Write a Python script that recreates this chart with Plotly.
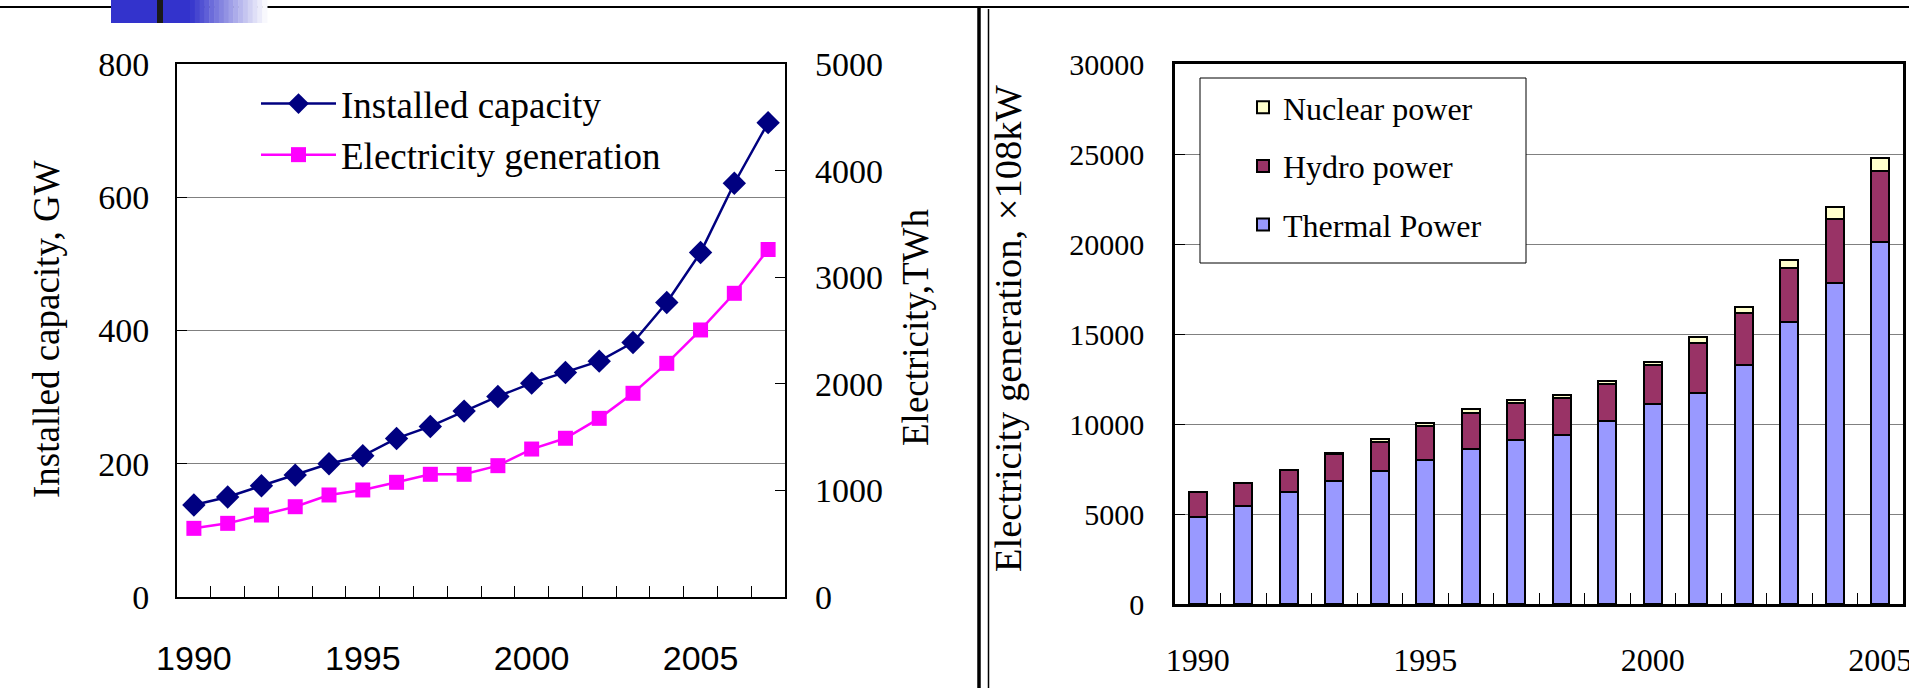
import plotly.graph_objects as go

W, H = 1909, 688


def px(x):
    return x / W


def py(y):
    return 1 - y / H


SERIF = "Liberation Serif, Times New Roman, serif"
SANS = "Liberation Sans, Arial, sans-serif"

# ---------------- data ----------------
years_left = list(range(1990, 2008))
capacity_gw = [138, 150, 167, 183, 200, 212, 238, 256, 279, 301, 321, 337, 354, 382, 442, 517, 621, 712]
generation_twh = [644, 691, 769, 847, 957, 1004, 1076, 1151, 1151, 1232, 1388, 1489, 1676, 1911, 2192, 2505, 2849, 3260]

years_right = list(range(1990, 2006))
thermal = [4850, 5460, 6240, 6810, 7410, 8000, 8610, 9110, 9390, 10190, 11110, 11740, 13280, 15690, 17820, 20130]
hydro = [1370, 1240, 1200, 1540, 1610, 1890, 1980, 2080, 2080, 2060, 2190, 2740, 2870, 2960, 3550, 3940]
nuclear = [0, 0, 0, 20, 130, 180, 260, 145, 140, 150, 165, 370, 370, 460, 670, 690]

left_xticks = [1990, 1995, 2000, 2005]
right_xticks = [1990, 1995, 2000, 2005]

fig = go.Figure()

# ---------------- left chart ----------------
fig.add_trace(go.Scatter(
    x=years_left, y=capacity_gw, name="Installed capacity",
    mode="lines+markers", xaxis="x", yaxis="y",
    line=dict(color="#000080", width=2.5),
    marker=dict(symbol="diamond", size=18, color="#000080"),
    legend="legend", legendgroup="a", legendrank=1,
))
fig.add_trace(go.Scatter(
    x=years_left, y=generation_twh, name="Electricity generation",
    mode="lines+markers", xaxis="x", yaxis="y2",
    line=dict(color="#FF00FF", width=2.5),
    marker=dict(symbol="square", size=15, color="#FF00FF"),
    legend="legend", legendgroup="b", legendrank=2,
))

# ---------------- right chart ----------------
bar_line = dict(color="black", width=2)
fig.add_trace(go.Bar(
    x=years_right, y=thermal, name="Thermal Power", xaxis="x2", yaxis="y3",
    width=0.4, marker=dict(color="#9999FF", line=bar_line),
    legend="legend2", legendgroup="t", legendrank=3,
))
fig.add_trace(go.Bar(
    x=years_right, y=hydro, name="Hydro power", xaxis="x2", yaxis="y3",
    width=0.4, marker=dict(color="#993366", line=bar_line),
    legend="legend2", legendgroup="h", legendrank=2,
))
fig.add_trace(go.Bar(
    x=years_right, y=nuclear, name="Nuclear power", xaxis="x2", yaxis="y3",
    width=0.4, marker=dict(color="#FFFFCC", line=bar_line),
    legend="legend2", legendgroup="n", legendrank=1,
))

axis_common = dict(showline=True, mirror=True, linecolor="black", zeroline=False, automargin=False)

fig.update_layout(
    width=W, height=H,
    margin=dict(l=0, r=0, t=0, b=0, pad=0, autoexpand=False),
    paper_bgcolor="white", plot_bgcolor="white",
    barmode="stack",
    showlegend=True,
    xaxis=dict(
        domain=[px(177), px(785)], anchor="y", range=[1989.5, 2007.5],
        tickmode="array", tickvals=left_xticks, ticks="inside", ticklen=0,
        minor=dict(tickmode="array", tickvals=[y + 0.5 for y in years_left[:-1]],
                   ticks="inside", ticklen=11, tickcolor="black", tickwidth=1, showgrid=False),
        showgrid=False, linewidth=2, tickformat="d",
        tickfont=dict(family=SANS, size=34, color="black"), ticklabelstandoff=30,
        **axis_common,
    ),
    yaxis=dict(
        domain=[py(597), py(64)], anchor="x", range=[0, 800], dtick=200,
        ticks="inside", ticklen=10, tickcolor="black",
        showgrid=True, gridcolor="#808080", gridwidth=1, linewidth=2,
        tickfont=dict(family=SERIF, size=34, color="black"), ticklabelstandoff=19,
        **axis_common,
    ),
    yaxis2=dict(
        overlaying="y", side="right", anchor="x", range=[0, 5000], dtick=1000,
        ticks="inside", ticklen=10, tickcolor="black", showgrid=False, showline=False,
        zeroline=False, automargin=False, tickformat="d",
        tickfont=dict(family=SERIF, size=34, color="black"), ticklabelstandoff=29,
    ),
    xaxis2=dict(
        domain=[px(1175), px(1903)], anchor="y3", range=[1989.5, 2005.5],
        tickmode="array", tickvals=right_xticks, ticks="inside", ticklen=0,
        minor=dict(tickmode="array", tickvals=[y + 0.5 for y in years_right[:-1]],
                   ticks="inside", ticklen=11, tickcolor="black", tickwidth=1, showgrid=False),
        showgrid=False, linewidth=2.5, tickformat="d", ticklabeloverflow="allow",
        tickfont=dict(family=SERIF, size=32, color="black"), ticklabelstandoff=26,
        **axis_common,
    ),
    yaxis3=dict(
        domain=[py(604), py(64)], anchor="x2", range=[0, 30000], dtick=5000,
        ticks="inside", ticklen=10, tickcolor="black", tickformat="d",
        showgrid=True, gridcolor="#808080", gridwidth=1, linewidth=2.5,
        tickfont=dict(family=SERIF, size=30, color="black"), ticklabelstandoff=22,
        **axis_common,
    ),
    legend=dict(
        x=px(256), y=py(73), xanchor="left", yanchor="top",
        bgcolor="rgba(0,0,0,0)", borderwidth=0, itemwidth=75,
        font=dict(family=SERIF, size=37, color="black"),
        traceorder="grouped", tracegroupgap=0,
    ),
    legend2=dict(
        x=px(1243), y=py(80), xanchor="left", yanchor="top",
        bgcolor="rgba(0,0,0,0)", borderwidth=0,
        font=dict(family=SERIF, size=32, color="black"),
        traceorder="grouped", tracegroupgap=14,
    ),
)

# ---------------- axis titles ----------------
title_font = dict(family=SERIF, size=37, color="black")
fig.add_annotation(text="Installed capacity, GW", x=px(46), y=py(329), xref="paper", yref="paper",
                   textangle=-90, showarrow=False, font=title_font, xanchor="center", yanchor="middle")
fig.add_annotation(text="Electricity,TWh", x=px(915), y=py(328), xref="paper", yref="paper",
                   textangle=-90, showarrow=False, font=title_font, xanchor="center", yanchor="middle")
fig.add_annotation(text="Electricity generation, ×108kW", x=px(1008), y=py(329), xref="paper", yref="paper",
                   textangle=-90, showarrow=False, font=dict(family=SERIF, size=38.5, color="black"),
                   xanchor="center", yanchor="middle")

# ---------------- decorations ----------------
shapes = []
# right legend box
shapes.append(dict(type="rect", xref="paper", yref="paper", x0=px(1200), x1=px(1526), y0=py(263), y1=py(78),
                   fillcolor="white", line=dict(color="black", width=1), layer="above"))
# top rule
shapes.append(dict(type="line", xref="paper", yref="paper", x0=0, x1=1, y0=py(7), y1=py(7),
                   line=dict(color="black", width=2)))
# blue block with gradient
shapes.append(dict(type="rect", xref="paper", yref="paper", x0=px(111), x1=px(190), y0=py(23), y1=1,
                   fillcolor="#3333CC", line=dict(width=0)))
steps = 16
for i in range(steps):
    f = (i + 0.5) / steps
    r = int(51 + (255 - 51) * f)
    b = int(204 + (255 - 204) * f)
    x0 = 190 + i * (77 / steps)
    shapes.append(dict(type="rect", xref="paper", yref="paper", x0=px(x0), x1=px(x0 + 77 / steps + 0.5),
                       y0=py(23), y1=1, fillcolor=f"rgb({r},{r},{b})", line=dict(width=0)))
shapes.append(dict(type="rect", xref="paper", yref="paper", x0=px(157), x1=px(163), y0=py(23), y1=1,
                   fillcolor="#1a1a1a", line=dict(width=0)))
# right panel frame
shapes.append(dict(type="line", xref="paper", yref="paper", x0=px(979), x1=px(979), y0=0, y1=py(6),
                   line=dict(color="black", width=3.5)))
shapes.append(dict(type="line", xref="paper", yref="paper", x0=px(988.5), x1=px(988.5), y0=0, y1=py(9),
                   line=dict(color="black", width=1.5)))
fig.update_layout(shapes=shapes)

fig.write_html("out.html")
